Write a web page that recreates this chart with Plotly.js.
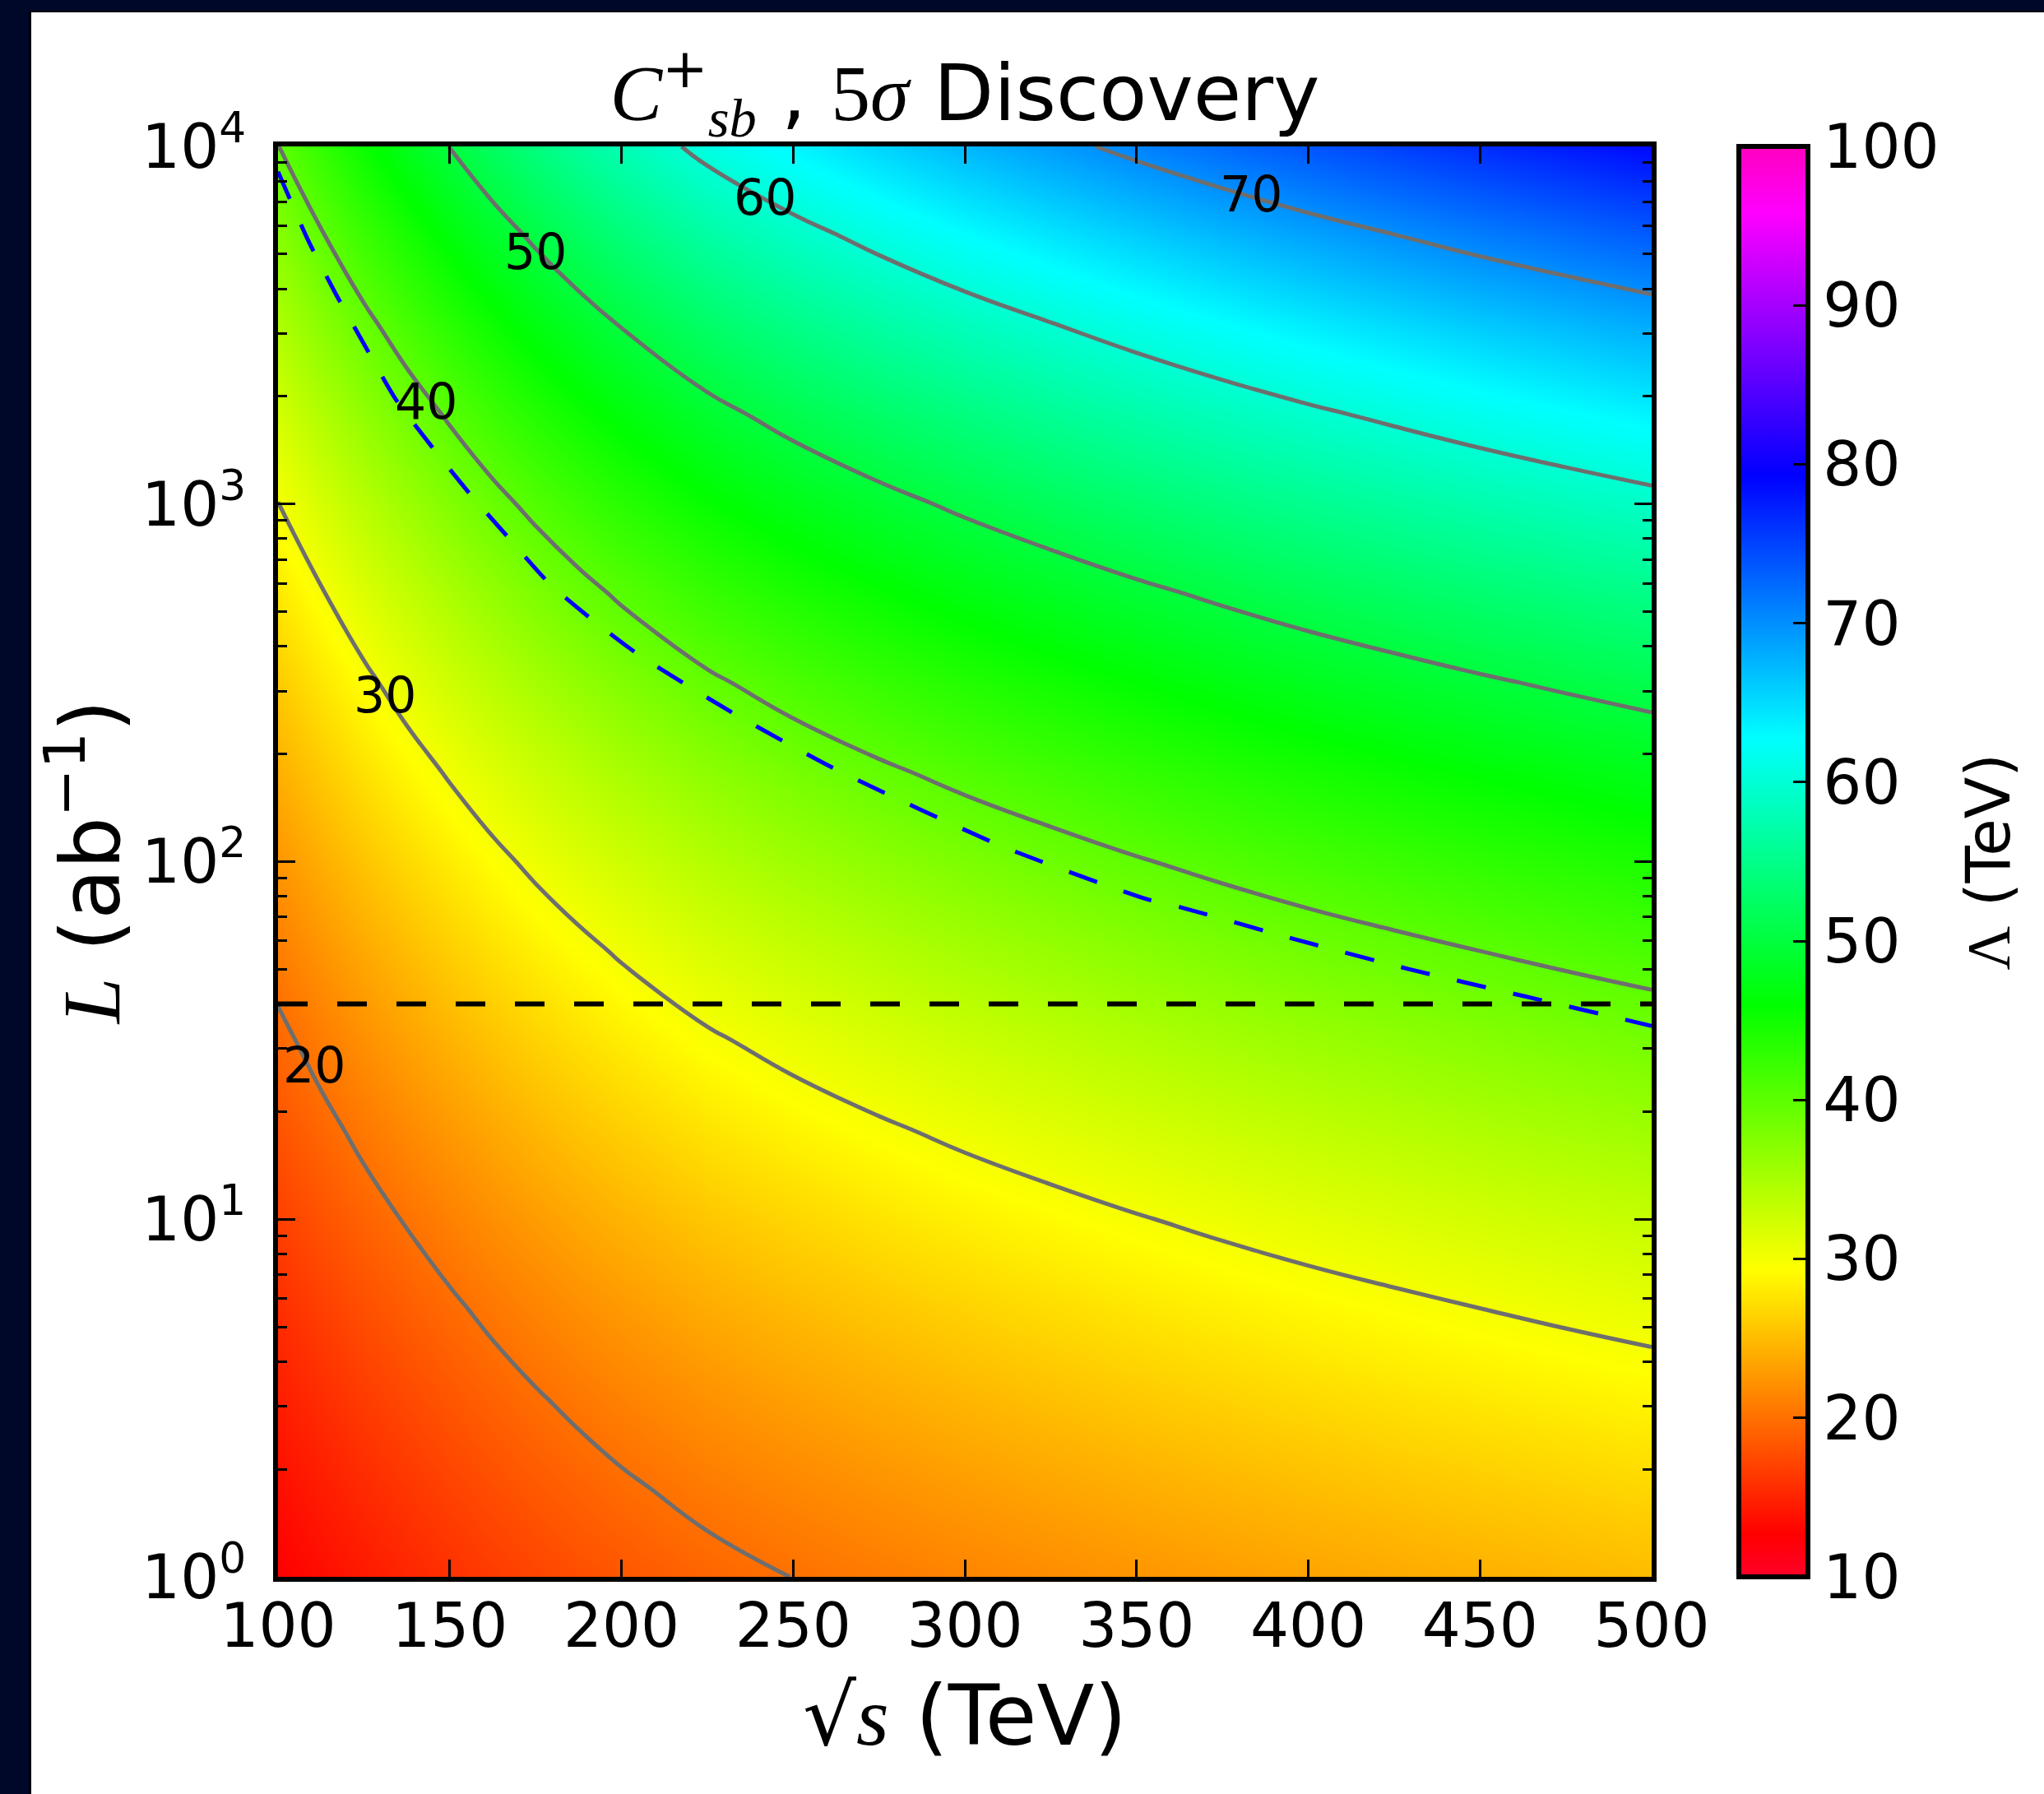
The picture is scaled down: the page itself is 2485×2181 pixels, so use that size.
<!DOCTYPE html>
<html><head><meta charset="utf-8">
<script src="https://cdn.plot.ly/plotly-3.0.1.min.js"></script>
<style>
html,body{margin:0;padding:0;background:#00082a;overflow:hidden;width:2485px;height:2181px;}
#frame{position:absolute;left:35px;top:13px;width:2450px;height:2168px;background:#000;}
#plot{position:absolute;left:38px;top:15px;width:2447px;height:2166px;background:#fff;}
</style></head><body>
<div id="frame"></div>
<div id="plot"></div>
<script>
// collision energy sqrt(s) in TeV (columns)
const sqrtS = [100, 112.5, 125, 137.5, 150, 162.5, 175, 187.5, 200, 225, 250, 275, 300, 325, 350, 375, 400, 425, 450, 475, 500];
// integrated luminosity in ab^-1 (rows)
const lumi = [1, 1.7783, 3.1623, 5.6234, 10, 17.783, 31.623, 56.234, 100, 177.83, 316.23, 562.34, 1000, 1778.3, 3162.3, 5623.4, 10000];
// Lambda reach (TeV), rows follow lumi, columns follow sqrtS
const lambdaTeV = [
  [12.63, 13.51, 14.34, 15.11, 15.83, 16.52, 17.16, 17.75, 18.30, 19.26, 20.03, 20.70, 21.31, 21.86, 22.39, 22.88, 23.34, 23.76, 24.17, 24.55, 24.92],
  [13.57, 14.52, 15.41, 16.24, 17.01, 17.75, 18.44, 19.07, 19.67, 20.70, 21.52, 22.24, 22.90, 23.49, 24.06, 24.59, 25.08, 25.53, 25.97, 26.38, 26.78],
  [14.58, 15.60, 16.56, 17.45, 18.28, 19.08, 19.82, 20.50, 21.13, 22.24, 23.13, 23.90, 24.61, 25.24, 25.86, 26.42, 26.95, 27.44, 27.91, 28.35, 28.78],
  [15.67, 16.77, 17.80, 18.75, 19.64, 20.50, 21.29, 22.03, 22.71, 23.90, 24.86, 25.69, 26.44, 27.13, 27.78, 28.39, 28.96, 29.48, 29.99, 30.47, 30.92],
  [16.84, 18.02, 19.12, 20.15, 21.11, 22.03, 22.88, 23.67, 24.40, 25.68, 26.71, 27.60, 28.42, 29.15, 29.86, 30.51, 31.12, 31.68, 32.23, 32.74, 33.23],
  [18.10, 19.36, 20.55, 21.65, 22.68, 23.67, 24.59, 25.44, 26.22, 27.60, 28.70, 29.66, 30.54, 31.33, 32.09, 32.79, 33.45, 34.05, 34.64, 35.18, 35.71],
  [19.45, 20.80, 22.08, 23.27, 24.38, 25.44, 26.43, 27.33, 28.18, 29.66, 30.84, 31.88, 32.82, 33.66, 34.48, 35.23, 35.94, 36.59, 37.22, 37.81, 38.38],
  [20.90, 22.36, 23.73, 25.00, 26.20, 27.34, 28.40, 29.37, 30.28, 31.87, 33.15, 34.25, 35.26, 36.17, 37.05, 37.86, 38.62, 39.32, 40.00, 40.63, 41.24],
  [22.46, 24.02, 25.50, 26.87, 28.15, 29.38, 30.52, 31.56, 32.54, 34.25, 35.62, 36.81, 37.90, 38.87, 39.82, 40.69, 41.51, 42.25, 42.98, 43.66, 44.31],
  [24.14, 25.82, 27.40, 28.87, 30.25, 31.57, 32.79, 33.92, 34.97, 36.80, 38.28, 39.56, 40.72, 41.77, 42.79, 43.72, 44.60, 45.40, 46.19, 46.91, 47.62],
  [25.94, 27.74, 29.45, 31.03, 32.51, 33.92, 35.24, 36.45, 37.58, 39.55, 41.13, 42.51, 43.76, 44.89, 45.98, 46.98, 47.93, 48.79, 49.63, 50.41, 51.17],
  [27.87, 29.81, 31.64, 33.34, 34.93, 36.46, 37.87, 39.17, 40.38, 42.50, 44.20, 45.68, 47.03, 48.24, 49.41, 50.49, 51.51, 52.43, 53.34, 54.18, 54.99],
  [29.95, 32.04, 34.01, 35.83, 37.54, 39.18, 40.69, 42.09, 43.40, 45.67, 47.50, 49.09, 50.53, 51.84, 53.10, 54.26, 55.35, 56.34, 57.32, 58.22, 59.09],
  [32.19, 34.43, 36.54, 38.50, 40.34, 42.10, 43.73, 45.23, 46.63, 49.08, 51.04, 52.75, 54.30, 55.71, 57.06, 58.31, 59.48, 60.55, 61.59, 62.56, 63.50],
  [34.59, 37.00, 39.27, 41.38, 43.35, 45.24, 46.99, 48.61, 50.11, 52.74, 54.85, 56.69, 58.36, 59.86, 61.31, 62.66, 63.91, 65.06, 66.19, 67.23, 68.24],
  [37.17, 39.76, 42.20, 44.46, 46.58, 48.61, 50.50, 52.23, 53.85, 56.68, 58.94, 60.91, 62.71, 64.33, 65.89, 67.33, 68.68, 69.92, 71.13, 72.24, 73.33],
  [39.94, 42.72, 45.35, 47.78, 50.06, 52.24, 54.26, 56.13, 57.87, 60.91, 63.34, 65.46, 67.39, 69.13, 70.80, 72.35, 73.81, 75.14, 76.43, 77.63, 78.80]
];
// contour levels and where their labels sit
const contourLevels = [20, 30, 40, 50, 60, 70];
const labelSqrtS = [110.5, 131.1, 143.1, 175.0, 241.9, 383.3];
const labelLumi = [26.9, 292, 1941, 5070, 7211, 7362];
// blue dashed curve
const blueSqrtS = [100, 108.8, 116.9, 125.4, 134, 144.9, 155.9, 165.7, 179, 191.7, 205.2, 231.7, 262, 311.2, 353, 362.7, 395.7, 429.5, 463.1, 496.3, 500];
const blueLumi = [8500, 5458, 3855, 2761, 1982, 1442, 1067, 834, 600, 473, 378, 263, 182, 110, 78.5, 74.6, 60.8, 50.0, 42.0, 35.4, 34.7];
// black dashed reference luminosity
const refSqrtS = [100, 500];
const refLumi = [40, 40];
// ticks
const xTickVals = [100, 150, 200, 250, 300, 350, 400, 450, 500];
const yTickVals = [1, 10, 100, 1000, 10000];
const yTickText = ['10<sup>0</sup>', '10<sup>1</sup>', '10<sup>2</sup>', '10<sup>3</sup>', '10<sup>4</sup>'];
const cbTickVals = [10, 20, 30, 40, 50, 60, 70, 80, 90, 100];

const gistRainbow = [
  [0.000, 'rgb(255,0,41)'], [0.030, 'rgb(255,0,0)'], [0.215, 'rgb(255,255,0)'],
  [0.400, 'rgb(0,255,0)'], [0.586, 'rgb(0,255,255)'], [0.770, 'rgb(0,0,255)'],
  [0.954, 'rgb(255,0,255)'], [1.000, 'rgb(255,0,191)']
];

const minorY = [];
for (let k = 0; k < 4; k++) for (let m = 2; m <= 9; m++) minorY.push(m * Math.pow(10, k));

const SANS = 'DejaVu Sans';
const SERIF = 'Liberation Serif';

const traces = [
  {
    type: 'heatmap', x: sqrtS, y: lumi, z: lambdaTeV,
    zmin: 10, zmax: 100, zsmooth: 'best', colorscale: gistRainbow,
    hoverinfo: 'skip',
    colorbar: {
      x: 1.0635, xanchor: 'left', xpad: 0, ypad: 0,
      y: 0.5, yanchor: 'middle', len: 1, lenmode: 'fraction',
      thickness: 84, thicknessmode: 'pixels',
      outlinewidth: 6, outlinecolor: '#000',
      tickmode: 'array', tickvals: cbTickVals, tickprefix: '\u2009',
      ticks: 'inside', ticklen: 21, tickwidth: 3, tickcolor: '#000',
      tickfont: {family: SANS, size: 74, color: '#000'}
    }
  },
  {
    type: 'contour', x: sqrtS, y: lumi, z: lambdaTeV,
    showscale: false, hoverinfo: 'skip',
    autocontour: false,
    contours: {coloring: 'none', start: contourLevels[0], end: contourLevels[contourLevels.length - 1], size: 10, showlabels: false},
    line: {color: '#6e6e6e', width: 5, smoothing: 1.3}
  },
  {
    type: 'scatter', mode: 'lines', x: blueSqrtS, y: blueLumi,
    line: {color: '#0000ff', width: 5, dash: '36px,34px', shape: 'spline', smoothing: 0.6},
    hoverinfo: 'skip', showlegend: false
  },
  {
    type: 'scatter', mode: 'lines', x: refSqrtS, y: refLumi,
    line: {color: '#000', width: 6, dash: '36px,36px'},
    hoverinfo: 'skip', showlegend: false
  }
];

const annotations = contourLevels.map((v, i) => ({
  x: labelSqrtS[i], y: Math.log10(labelLumi[i]), xref: 'x', yref: 'y',
  text: String(v), showarrow: false, xanchor: 'center', yanchor: 'middle',
  font: {family: SANS, size: 60, color: '#000'}
}));
annotations.push({
  xref: 'paper', yref: 'paper', x: 1.2449, y: 0.5, xanchor: 'center', yanchor: 'middle',
  textangle: -90, showarrow: false,
  text: '<span style="font-family:' + SERIF + '">Λ</span> (TeV)',
  font: {family: SANS, size: 74, color: '#000'}
});

const layout = {
  width: 2447, height: 2166,
  paper_bgcolor: '#fff', plot_bgcolor: '#fff',
  margin: {l: 300, r: 477, t: 163, b: 264, autoexpand: false},
  showlegend: false, hovermode: false,
  title: {
    text: '<span style="font-family:' + SERIF + ';font-style:italic">C</span><sup>+</sup><sub><span style="font-family:' + SERIF + ';font-style:italic">sb</span></sub> , <span style="font-family:' + SERIF + '">5<i>σ</i></span> Discovery',
    font: {family: SANS, size: 95, color: '#000'},
    x: 0.5, xref: 'paper', xanchor: 'center',
    y: 0.955, yref: 'container', yanchor: 'middle'
  },
  xaxis: {
    range: [100, 500], tickmode: 'array', tickvals: xTickVals,
    ticks: 'inside', ticklen: 21, tickwidth: 3, tickcolor: '#000',
    showline: true, linewidth: 6, linecolor: '#000', mirror: 'ticks',
    showgrid: false, zeroline: false, ticklabelstandoff: -10,
    tickfont: {family: SANS, size: 74, color: '#000'},
    title: {text: '√<span style="font-family:' + SERIF + ';font-style:italic">s</span> (TeV)', font: {family: SANS, size: 102, color: '#000'}, standoff: 34}
  },
  yaxis: {
    type: 'log', range: [0, 4], tickmode: 'array', tickvals: yTickVals, ticktext: yTickText,
    ticks: 'inside', ticklen: 21, tickwidth: 3, tickcolor: '#000',
    showline: true, linewidth: 6, linecolor: '#000', mirror: 'ticks',
    showgrid: false, zeroline: false, ticklabelstandoff: 18,
    minor: {tickmode: 'array', tickvals: minorY, ticks: 'inside', ticklen: 11, tickwidth: 3, tickcolor: '#000', showgrid: false},
    tickfont: {family: SANS, size: 74, color: '#000'},
    title: {text: '<span style="font-family:' + SERIF + ';font-style:italic">L</span> (ab<sup>−1</sup>)', font: {family: SANS, size: 100, color: '#000'}, standoff: 14}
  },
  annotations: annotations
};

Plotly.newPlot('plot', traces, layout, {staticPlot: true, displayModeBar: false});
</script>
</body></html>
